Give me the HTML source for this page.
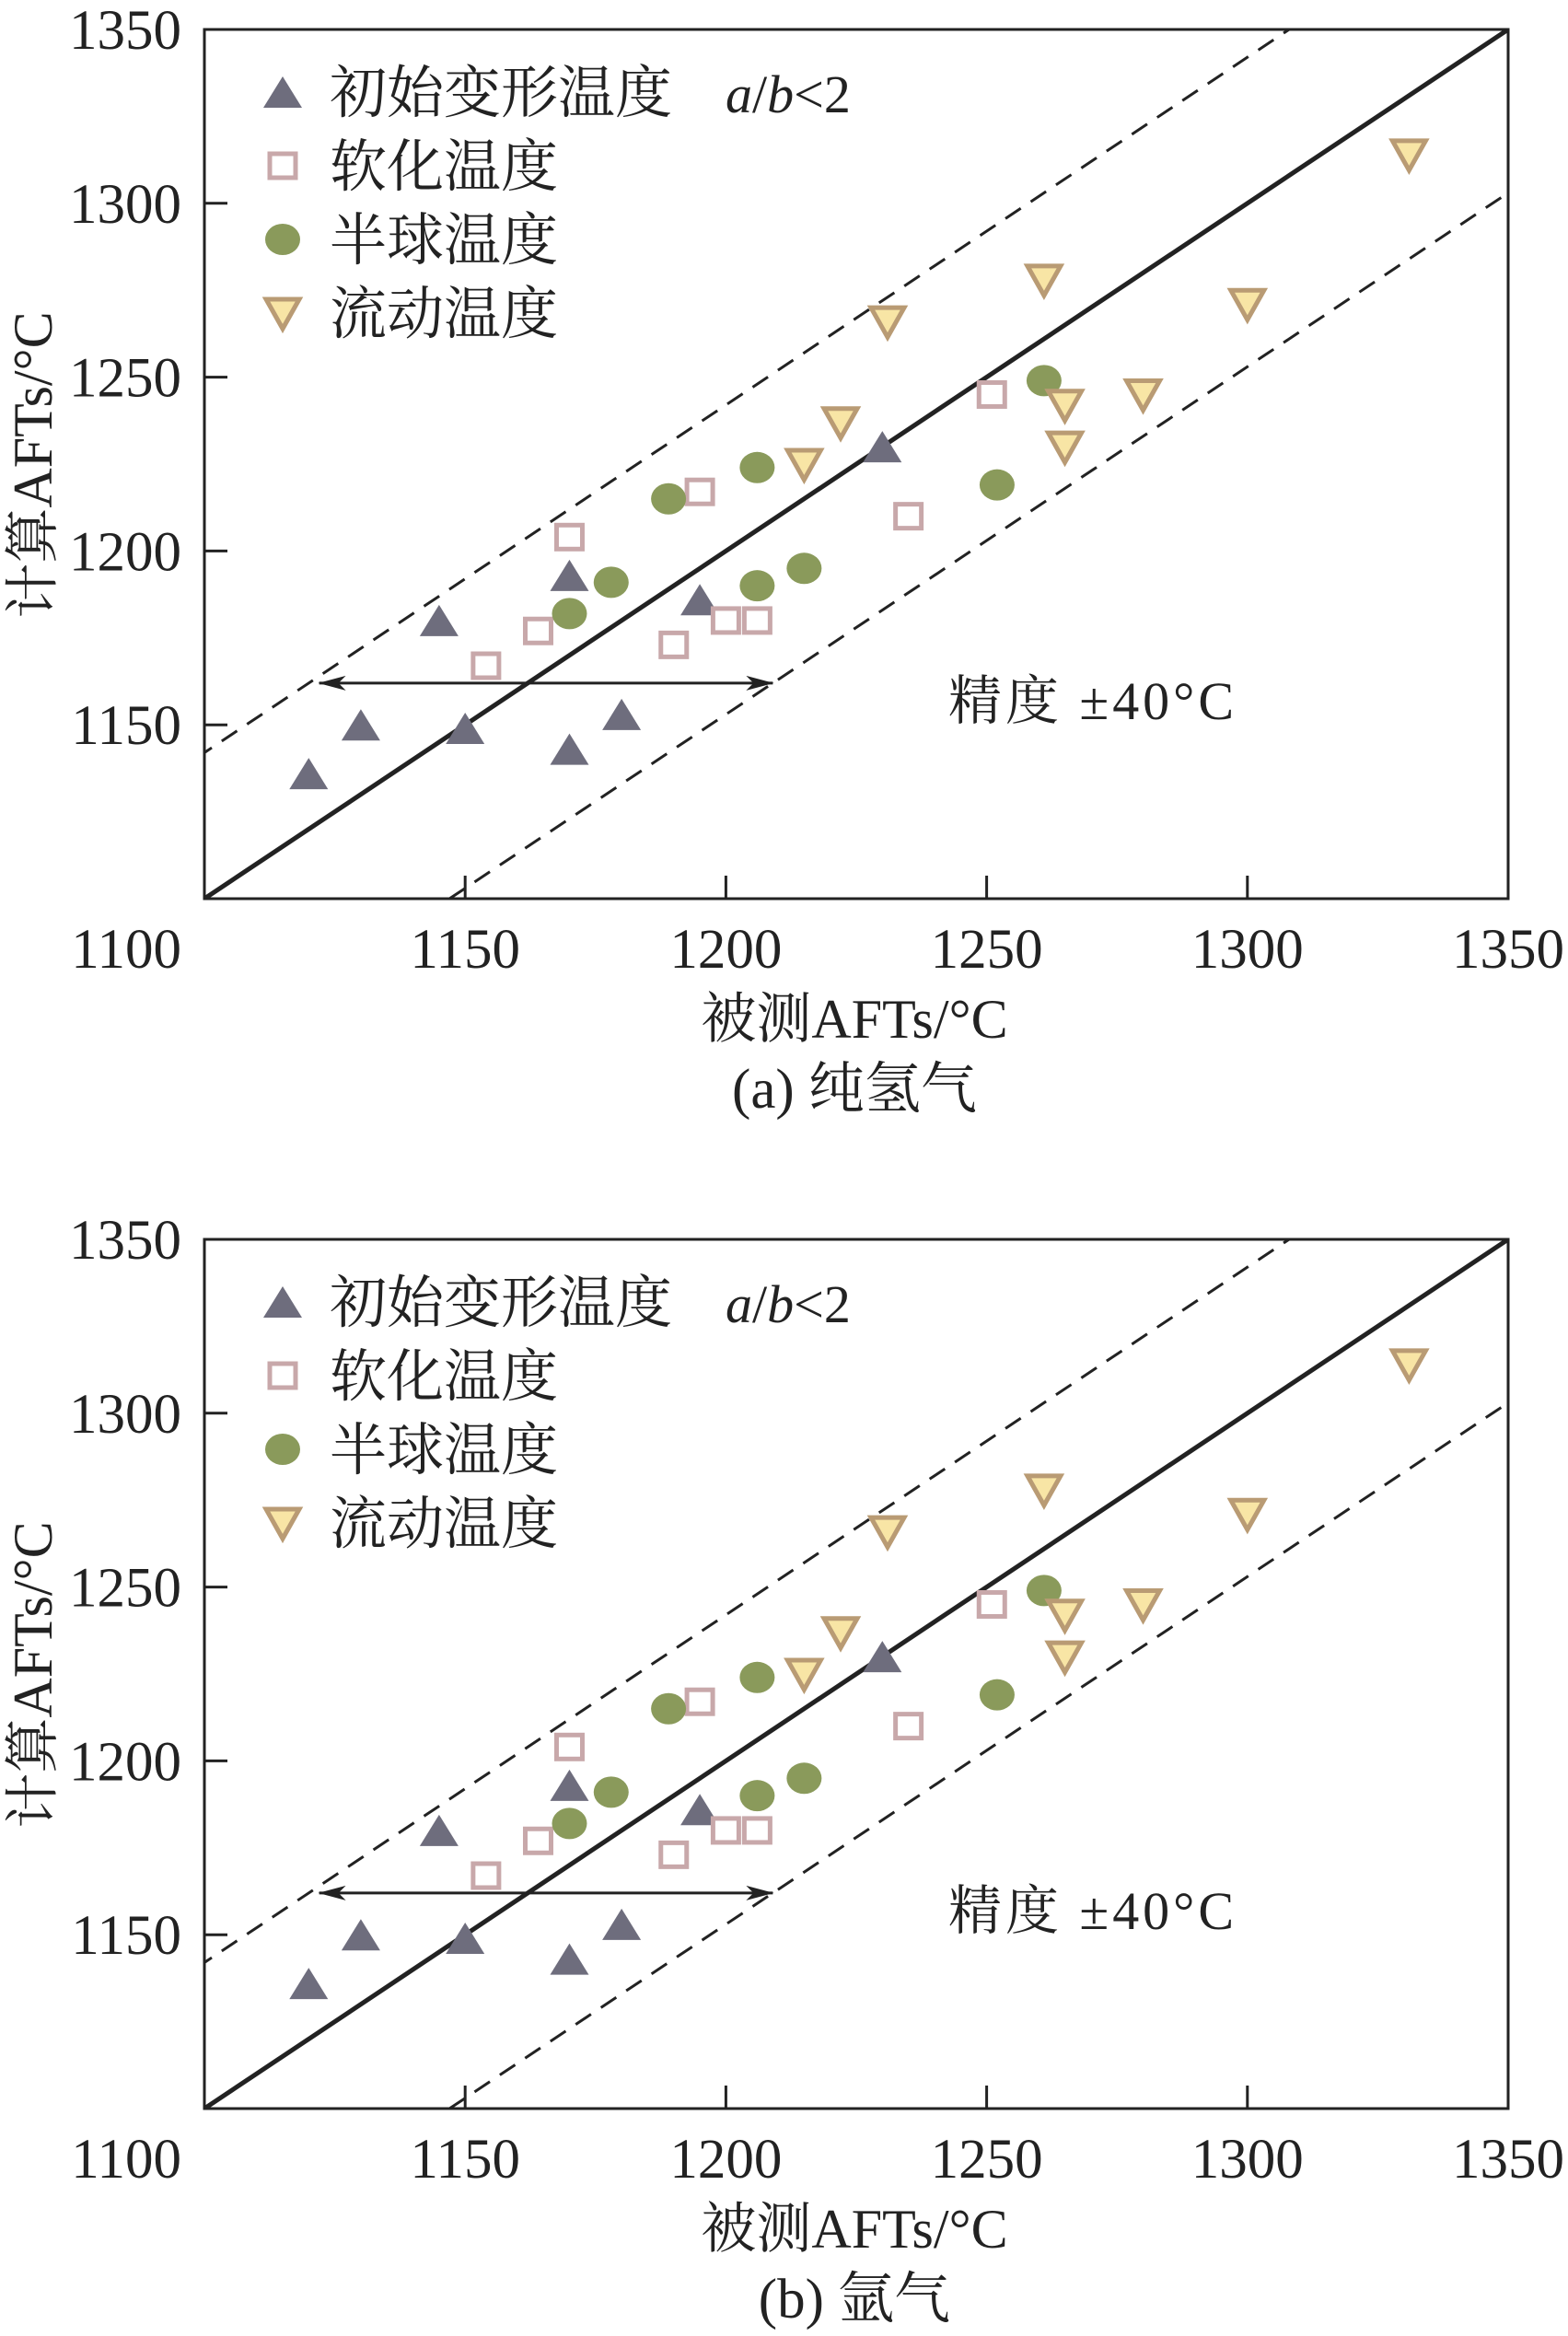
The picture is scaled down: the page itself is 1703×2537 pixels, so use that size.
<!DOCTYPE html>
<html><head><meta charset="utf-8">
<style>
html,body{margin:0;padding:0;background:#fff;}
svg{display:block;}
text{font-family:"Liberation Serif","Noto Serif CJK SC","Noto Sans CJK SC",serif;fill:#222;}
</style></head>
<body>
<svg id="chart" width="1703" height="2537" viewBox="0 0 1703 2537" xmlns="http://www.w3.org/2000/svg"></svg>
<script>
const ticks = [1100, 1150, 1200, 1250, 1300, 1350];
const panelCaptions = ["(a) 纯氢气", "(b) 氩气"];
const initX = [1120, 1130, 1145, 1150, 1170, 1170, 1180, 1195, 1230];
const initY = [1136, 1150, 1180, 1149, 1193, 1143, 1153, 1186, 1230];
const softX = [1154, 1164, 1170, 1190, 1195, 1200, 1206, 1235, 1251];
const softY = [1167, 1177, 1204, 1173, 1217, 1180, 1180, 1210, 1245];
const hemiX = [1170, 1178, 1189, 1206, 1206, 1215, 1252, 1261];
const hemiY = [1182, 1191, 1215, 1224, 1190, 1195, 1219, 1249];
const flowX = [1215, 1222, 1231, 1261, 1265, 1265, 1280, 1300, 1331];
const flowY = [1225, 1237, 1266, 1278, 1242, 1230, 1245, 1271, 1314];
const upperOffset = 42, lowerOffset = -47;
const arrowY = 1162, arrowX0 = 1122, arrowX1 = 1209;

const NS = "http://www.w3.org/2000/svg";
const svg = document.getElementById('chart');
function mk(tag, attrs, parent) {
  const e = document.createElementNS(NS, tag);
  for (const k in attrs) e.setAttribute(k, attrs[k]);
  (parent || svg).appendChild(e);
  return e;
}
const L = 222, R = 1638, H = 944;
const panelTops = [32, 1346];

const defs = mk('defs', {});
const mrk = mk('marker', {id: 'ah', markerWidth: 30, markerHeight: 16, refX: 29, refY: 8, orient: 'auto-start-reverse', markerUnits: 'userSpaceOnUse'}, defs);
mk('path', {d: 'M0,0 L30,8 L0,16 L8,8 Z', fill: '#222'}, mrk);

panelTops.forEach((T, pi) => {
  const B = T + H;
  const g = mk('g', {});
  
  
  const xs = v => L + (v - 1100) / 250 * (R - L);
  const ys = v => B - (v - 1100) / 250 * H;
  const cp = mk('clipPath', {id: 'clip' + pi}, defs);
  mk('rect', {x: L, y: T, width: R - L, height: H}, cp);

  const lines = mk('g', {'clip-path': 'url(#clip' + pi + ')'}, g);
  const solid = mk('line', {x1: xs(1100), y1: ys(1100), x2: xs(1350), y2: ys(1350), stroke: '#222', 'stroke-width': 5}, lines);
  
  
  const up = mk('line', {x1: xs(1050), y1: ys(1050 + upperOffset), x2: xs(1400), y2: ys(1400 + upperOffset), stroke: '#222', 'stroke-width': 3, 'stroke-dasharray': '20 13'}, lines);
  
  
  const lo = mk('line', {x1: xs(1050), y1: ys(1050 + lowerOffset), x2: xs(1400), y2: ys(1400 + lowerOffset), stroke: '#222', 'stroke-width': 3, 'stroke-dasharray': '20 13'}, lines);
  
  

  const frame = mk('rect', {x: L, y: T, width: R - L, height: H, fill: 'none', stroke: '#222', 'stroke-width': 3}, g);
  
  

  ticks.forEach((t, i) => {
    if (i > 0 && i < ticks.length - 1) {
      mk('line', {x1: xs(t), y1: B, x2: xs(t), y2: B - 25, stroke: '#222', 'stroke-width': 3}, g);
      mk('line', {x1: L, y1: ys(t), x2: L + 25, y2: ys(t), stroke: '#222', 'stroke-width': 3}, g);
    }
    if (i > 0) {
      const yl = mk('text', {x: 197, y: ys(t) + 21, 'text-anchor': 'end', 'font-size': 61}, g);
      yl.textContent = t;
      
      
      const xl = mk('text', {x: xs(t), y: B + 75, 'text-anchor': 'middle', 'font-size': 61}, g);
      xl.textContent = t;
      
      
    } else {
      const xl = mk('text', {x: 197, y: B + 75, 'text-anchor': 'end', 'font-size': 61}, g);
      xl.textContent = t;
      
      
    }
  });

  const ar = mk('line', {x1: xs(arrowX0), y1: ys(arrowY), x2: xs(arrowX1), y2: ys(arrowY), stroke: '#222', 'stroke-width': 3, 'marker-start': 'url(#ah)', 'marker-end': 'url(#ah)'}, g);
  
  

  function tri(cx, cy, up, fill, stroke, parent) {
    const w = 21, h = 34;
    const d = up ? `M${cx - w},${cy + h/2} L${cx + w},${cy + h/2} L${cx},${cy - h/2} Z`
                 : `M${cx - w + 3},${cy - h/2 + 2} L${cx + w - 3},${cy - h/2 + 2} L${cx},${cy + h/2} Z`;
    return mk('path', {d: d, fill: fill, stroke: stroke, 'stroke-width': up ? 0 : 5, 'stroke-linejoin': 'miter'}, parent);
  }
  const sInit = mk('g', {}, g);
  
  
  initX.forEach((v, i) => {
    const p = tri(xs(v), ys(initY[i]), true, '#6e6d7d', 'none', sInit);
    
    
  });
  const sSoft = mk('g', {}, g);
  
  
  softX.forEach((v, i) => {
    const p = mk('rect', {x: xs(v) - 14, y: ys(softY[i]) - 13, width: 28, height: 26, fill: '#fff', stroke: '#c8a8aa', 'stroke-width': 5}, sSoft);
    
    
  });
  const sHemi = mk('g', {}, g);
  
  
  hemiX.forEach((v, i) => {
    const p = mk('ellipse', {cx: xs(v), cy: ys(hemiY[i]), rx: 19, ry: 17, fill: '#8a9a5b'}, sHemi);
    
    
  });
  const sFlow = mk('g', {}, g);
  
  
  flowX.forEach((v, i) => {
    const p = tri(xs(v), ys(flowY[i]), false, '#f8e5a5', '#b99b74', sFlow);
    
    
  });

  const leg = mk('g', {}, g);
  
  
  const labels = ['初始变形温度', '软化温度', '半球温度', '流动温度'];
  const rows = [100, 180, 260, 340];
  rows.forEach((ry, i) => {
    const cy = T + ry - 32;
    if (i === 0) tri(307, cy, true, '#6e6d7d', 'none', leg);
    if (i === 1) mk('rect', {x: 293, y: cy - 13, width: 28, height: 26, fill: '#fff', stroke: '#c8a8aa', 'stroke-width': 5}, leg);
    if (i === 2) mk('ellipse', {cx: 307, cy: cy, rx: 19, ry: 17, fill: '#8a9a5b'}, leg);
    if (i === 3) tri(307, cy, false, '#f8e5a5', '#b99b74', leg);
    const t = mk('text', {x: 358, y: cy + 22, 'font-size': 62}, leg);
    t.textContent = labels[i];
    
    
  });
  const ab = mk('text', {x: 788, y: T + 90, 'font-size': 58}, g);
  ab.innerHTML = '<tspan font-style="italic">a</tspan><tspan>/</tspan><tspan font-style="italic">b</tspan><tspan>&lt;2</tspan>';
  
  

  const acc = mk('text', {x: 1030, y: T + 749, 'font-size': 58, textLength: 310, lengthAdjust: 'spacing'}, g);
  acc.textContent = '精度 ±40°C';
  
  

  const yt = mk('text', {x: 0, y: 0, 'font-size': 60, 'text-anchor': 'middle', transform: `translate(56,${T + 473}) rotate(-90)`}, g);
  yt.textContent = '计算AFTs/°C';
  
  
  const xt = mk('text', {x: 928, y: B + 151, 'font-size': 60, 'text-anchor': 'middle'}, g);
  xt.textContent = '被测AFTs/°C';
  
  
  const cap = mk('text', {x: 928, y: B + 227, 'font-size': 61, 'text-anchor': 'middle'}, g);
  cap.textContent = panelCaptions[pi];
  
  
});
</script>
</body></html>
